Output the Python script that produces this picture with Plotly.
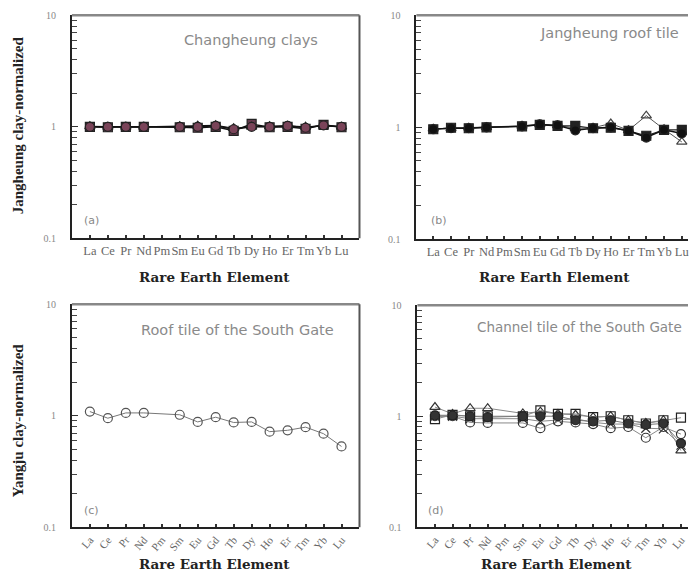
import plotly.graph_objects as go

# figure size chosen so the page fits the 697x583 window (8px body margin)
FW, FH = 681, 567
# measured mapping of figure pixels onto the photographed window
X_OFF = 8.0
Y_OFF, Y_SCALE = 13.7, 0.979

# ---- categories ----
elements = ["La", "Ce", "Pr", "Nd", "Pm", "Sm", "Eu", "Gd", "Tb", "Dy", "Ho", "Er", "Tm", "Yb", "Lu"]
element_pos = list(range(1, 16))
measured = ["La", "Ce", "Pr", "Nd", "Sm", "Eu", "Gd", "Tb", "Dy", "Ho", "Er", "Tm", "Yb", "Lu"]
measured_pos = [element_pos[elements.index(e)] for e in measured]

# ---- (a) Changheung clays ----
a_circle = [1.00, 1.00, 1.00, 1.00, 1.00, 1.00, 1.02, 0.95, 1.00, 1.00, 1.02, 0.98, 1.03, 1.00]
a_square = [1.00, 0.99, 1.00, 1.00, 0.99, 0.98, 1.00, 0.92, 1.06, 0.99, 1.00, 0.96, 1.04, 0.99]
a_triangle = [1.01, 1.00, 1.00, 1.00, 1.01, 1.02, 1.03, 0.97, 1.00, 1.01, 1.02, 1.00, 1.02, 1.00]

# ---- (b) Jangheung roof tile ----
b_circle = [0.96, 0.98, 0.98, 1.00, 1.02, 1.06, 1.04, 0.94, 0.98, 1.00, 0.93, 0.81, 0.95, 0.88]
b_square = [0.96, 0.99, 0.98, 1.00, 1.02, 1.05, 1.03, 1.03, 0.98, 0.99, 0.93, 0.84, 0.95, 0.95]
b_triangle = [0.97, 0.98, 0.99, 1.00, 1.03, 1.06, 1.04, 0.98, 0.99, 1.08, 0.94, 1.27, 0.96, 0.74]

# ---- (c) Roof tile of the South Gate ----
c_circle = [1.09, 0.95, 1.06, 1.06, 1.02, 0.88, 0.97, 0.87, 0.88, 0.72, 0.74, 0.79, 0.69, 0.53]

# ---- (d) Channel tile of the South Gate ----
d_triangle = [1.21, 1.05, 1.18, 1.18, 1.06, 1.10, 1.05, 1.03, 0.98, 1.00, 0.92, 0.87, 0.92, 0.49]
d_square = [0.94, 1.03, 1.00, 1.00, 1.00, 1.13, 1.05, 1.05, 0.98, 1.00, 0.92, 0.86, 0.92, 0.97]
d_circle = [1.00, 1.00, 0.88, 0.87, 0.87, 0.78, 0.90, 0.88, 0.85, 0.78, 0.80, 0.64, 0.80, 0.69]
d_filled = [1.02, 1.02, 1.00, 0.98, 1.00, 1.00, 1.00, 0.92, 0.90, 0.92, 0.86, 0.84, 0.86, 0.57]
d_cross = [1.00, 1.00, 0.95, 0.95, 0.95, 0.90, 0.93, 0.95, 0.88, 0.85, 0.85, 0.78, 0.77, 0.55]

y_ticks = [0.1, 1, 10]
y_ticktext = ["0.1", "1", "10"]
y_minor = [0.2, 0.3, 0.4, 0.5, 0.6, 0.7, 0.8, 0.9, 2, 3, 4, 5, 6, 7, 8, 9]

panel_texts = ["Changheung clays", "Jangheung roof tile",
               "Roof tile of the South Gate", "Channel tile of the South Gate"]
panel_labels = ["(a)", "(b)", "(c)", "(d)"]
x_title = "Rare Earth Element"
y_titles = ["Jangheung clay-normalized", "Yangju clay-normalized"]

fig = go.Figure()


def add(xax, yax, ys, symbol, fill, line_color, lw=1.2, size=9, mline="#222"):
    fig.add_trace(go.Scatter(
        x=measured_pos, y=ys, xaxis=xax, yaxis=yax, mode="lines+markers",
        line=dict(color=line_color, width=lw),
        marker=dict(symbol=symbol, size=size, color=fill, line=dict(color=mline, width=1.2)),
        showlegend=False, hoverinfo="skip"))


# (a)
add("x", "y", a_square, "square", "#643a4d", "#111", 1.5)
add("x", "y", a_triangle, "triangle-up", "#914f63", "#111", 1.2)
add("x", "y", a_circle, "circle", "#7a4459", "#111", 1.5)
# (b)
add("x2", "y2", b_triangle, "triangle-up", "rgba(255,255,255,0)", "#555", 1.0, mline="#444")
add("x2", "y2", b_square, "square", "#222", "#222", 1.2)
add("x2", "y2", b_circle, "circle", "#111", "#111", 1.5)
# (c)
add("x3", "y3", c_circle, "circle-open", "#555", "#777", 1.0, mline="#555")
# (d)
add("x4", "y4", d_cross, "x-thin-open", "#333", "#888", 1.0, mline="#333")
add("x4", "y4", d_circle, "circle-open", "#333", "#888", 1.0, mline="#333")
add("x4", "y4", d_triangle, "triangle-up-open", "#333", "#888", 1.0, mline="#333")
add("x4", "y4", d_square, "square-open", "#222", "#888", 1.0, mline="#222")
add("x4", "y4", d_filled, "circle", "#333", "#777", 1.0)


def px(xp):
    return min(1.0, max(0.0, (xp - X_OFF) / FW))


def py(yp):
    return min(1.0, max(0.0, 1 - ((yp - Y_OFF) / Y_SCALE) / FH))


panels = [
    # xaxis, yaxis, left, right, top, bottom (reference pixels), xrange, right border, tick angle
    ("xaxis", "yaxis", 72, 360, 15, 238, [0, 16], True, 0),
    ("xaxis2", "yaxis2", 417, 697, 15, 239, [0.05, 15.35], False, 0),
    ("xaxis3", "yaxis3", 72, 360, 304, 527, [0, 16], True, -50),
    ("xaxis4", "yaxis4", 418, 697, 305, 527, [0.0, 15.4], False, -50),
]

shapes = []
for i, (xa, ya, l, r, t, b, xr, rb, ang) in enumerate(panels):
    n = "" if i == 0 else str(i + 1)
    fig.layout[xa] = dict(
        domain=[px(l), px(r)], range=xr, anchor="y" + n,
        tickmode="array", tickvals=element_pos, ticktext=elements,
        ticks="inside", ticklen=3, tickwidth=1.5, tickcolor="#333",
        showline=True, linecolor="#222", linewidth=2, mirror=False,
        showgrid=False, zeroline=False, tickangle=ang, ticklabeloverflow="allow",
        tickfont=dict(family="Liberation Serif", size=12.5 if ang == 0 else 11, color="#666"),
    )
    fig.layout[ya] = dict(
        domain=[py(b), py(t)], type="log", range=[-1, 1], anchor="x" + n,
        tickmode="array", tickvals=y_ticks, ticktext=y_ticktext,
        ticks="inside", ticklen=6, tickwidth=1.2, tickcolor="#333",
        minor=dict(tickmode="array", tickvals=y_minor, ticks="inside", ticklen=5,
                   tickcolor="#444", tickwidth=1.2),
        showline=True, linecolor="#222", linewidth=2, mirror=False,
        showgrid=False, zeroline=False, ticklabelstandoff=12,
        tickfont=dict(family="Liberation Serif", size=10, color="#888"),
    )
    shapes.append(dict(type="line", xref="paper", yref="paper",
                       x0=px(l), x1=px(r), y0=py(t), y1=py(t),
                       line=dict(color="#888", width=2.5)))
    if rb:
        shapes.append(dict(type="line", xref="paper", yref="paper",
                           x0=px(r), x1=px(r), y0=py(b), y1=py(t),
                           line=dict(color="#555", width=2)))

annotations = []
title_pos = [(251, 40), (610, 33), (238, 330), (580, 327)]
title_size = [14.5, 14.5, 14.5, 13.5]
for txt, (x, y), fs in zip(panel_texts, title_pos, title_size):
    annotations.append(dict(text=txt, x=px(x), y=py(y), xref="paper", yref="paper",
                            showarrow=False, xanchor="center", yanchor="middle",
                            font=dict(family="DejaVu Sans", size=fs, color="#8a8a8a")))
label_pos = [(92, 220), (440, 220), (92, 510), (437, 510)]
for txt, (x, y) in zip(panel_labels, label_pos):
    annotations.append(dict(text=txt, x=px(x), y=py(y), xref="paper", yref="paper",
                            showarrow=False, xanchor="center", yanchor="middle",
                            font=dict(family="DejaVu Sans", size=11, color="#888")))
for (x, y) in [(215, 277), (555, 277), (215, 564), (557, 564)]:
    annotations.append(dict(text="<b>" + x_title + "</b>", x=px(x), y=py(y), xref="paper",
                            yref="paper", showarrow=False, xanchor="center", yanchor="middle",
                            font=dict(family="DejaVu Serif", size=13.5, color="#222")))
for txt, (x, y) in zip(y_titles, [(18, 125), (18, 420)]):
    annotations.append(dict(text="<b>" + txt + "</b>", x=px(x), y=py(y), xref="paper",
                            yref="paper", showarrow=False, xanchor="center", yanchor="middle",
                            textangle=-90,
                            font=dict(family="Liberation Serif", size=15, color="#222")))

fig.update_layout(
    width=FW, height=FH, margin=dict(l=0, r=0, t=0, b=0),
    paper_bgcolor="white", plot_bgcolor="white",
    annotations=annotations, shapes=shapes,
)

fig.write_html("out.html")
